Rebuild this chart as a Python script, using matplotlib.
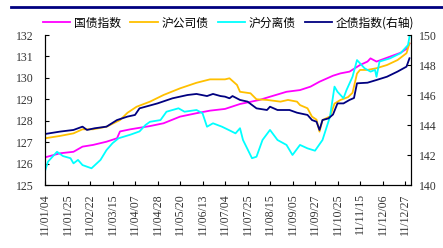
import matplotlib
matplotlib.use("Agg")
import matplotlib.pyplot as plt
from matplotlib.lines import Line2D

# trading-day index (0 = 2011-01-04) and values
guozhai_day = [0, 10, 19, 25, 32, 41, 48, 50, 57, 70, 79, 90, 101, 110, 120, 130, 143, 150,
               161, 170, 177, 183, 192, 197, 203, 210, 215, 217, 221, 230, 237, 241, 243]
guozhai = [126.29, 126.48, 126.55, 126.79, 126.87, 127.02, 127.18, 127.5, 127.6, 127.75,
           127.88, 128.19, 128.35, 128.47, 128.55, 128.78, 128.97, 129.12, 129.35, 129.43,
           129.59, 129.82, 130.1, 130.21, 130.29, 130.6, 130.76, 130.91, 130.76, 130.99,
           131.17, 131.35, 131.6]

gongsi_day = [0, 10, 19, 25, 32, 41, 50, 55, 61, 70, 79, 90, 101, 110, 120, 123, 128, 130,
              137, 141, 148, 157, 162, 168, 170, 175, 178, 181, 183, 185, 190, 193, 197, 202,
              205, 208, 210, 215, 221, 228, 235, 241, 243]
gongsi = [127.18, 127.29, 127.41, 127.6, 127.6, 127.72, 128.03, 128.37, 128.65, 128.89,
          129.2, 129.51, 129.77, 129.93, 129.93, 129.98, 129.67, 129.35, 129.28, 129.0,
          128.97, 128.89, 128.97, 128.89, 128.73, 128.58, 128.19, 128.05, 127.49, 128.03,
          128.2, 128.8, 128.97, 129.1, 129.3, 130.2, 130.37, 130.37, 130.45, 130.6, 130.83,
          131.15, 131.61]

fenli_day = [0, 2, 8, 12, 17, 19, 22, 25, 31, 37, 41, 45, 49, 57, 63, 67, 70, 77, 81, 89,
             93, 101, 105, 108, 112, 118, 123, 127, 130, 132, 138, 141, 145, 150, 155, 161,
             165, 170, 175, 180, 185, 190, 193, 195, 199, 201, 205, 208, 210, 213, 217, 220,
             221, 223, 230, 237, 242, 243]
fenli = [125.65, 126.09, 126.55, 126.35, 126.25, 126.01, 126.17, 125.93, 125.78, 126.17,
         126.63, 126.95, 127.18, 127.35, 127.5, 127.8, 127.95, 128.03, 128.42, 128.58,
         128.42, 128.5, 128.35, 127.72, 127.88, 127.72, 127.55, 127.41, 127.65, 127.1,
         126.25, 126.32, 127.1, 127.57, 127.1, 126.87, 126.4, 126.87, 126.71, 126.6, 127.1,
         128.19, 129.59, 129.35, 129.05, 129.43, 130.05, 130.83, 130.68, 130.45, 130.29,
         130.37, 130.05, 130.76, 130.91, 131.15, 131.53, 131.92]

qizhai_day = [0, 10, 19, 25, 28, 33, 41, 48, 55, 60, 63, 75, 85, 95, 101, 108, 112, 117,
              120, 123, 125, 130, 135, 141, 148, 150, 155, 163, 168, 175, 178, 181, 183, 185,
              189, 192, 195, 199, 203, 206, 208, 215, 221, 228, 235, 241, 243]
qizhai = [143.4, 143.56, 143.67, 143.89, 143.67, 143.78, 143.89, 144.33, 144.56, 144.67,
          145.11, 145.44, 145.78, 146.0, 146.07, 145.93, 146.07, 145.93, 145.89, 145.78,
          145.93, 145.67, 145.56, 145.11, 145.0, 145.22, 145.0, 145.0, 144.82, 144.67,
          144.33, 144.22, 143.67, 144.33, 144.44, 144.7, 145.44, 145.44, 145.67, 145.8,
          146.78, 146.82, 147.0, 147.22, 147.56, 147.89, 148.45]

tick_labels = ['11/01/04', '11/01/25', '11/02/22', '11/03/15', '11/04/07', '11/04/28',
               '11/05/20', '11/06/13', '11/07/04', '11/07/25', '11/08/15', '11/09/05',
               '11/09/27', '11/10/25', '11/11/15', '11/12/06', '11/12/27']
names = ['国债指数', '沪公司债', '沪分离债', '企债指数(右轴)']

cjk = ['Noto Sans CJK SC', 'DejaVu Sans']
serif = 'Liberation Serif'

fig = plt.figure(figsize=(4.43, 2.48), dpi=100)
ax = fig.add_axes([45 / 443, 1 - 185 / 248, (410.7 - 45) / 443, 150 / 248])
ax2 = ax.twinx()

l1, = ax.plot(guozhai_day, guozhai, color='#FF00FF', lw=1.3)
l2, = ax.plot(gongsi_day, gongsi, color='#FFC000', lw=1.3)
l3, = ax.plot(fenli_day, fenli, color='#00FFFF', lw=1.3)
l4, = ax2.plot(qizhai_day, qizhai, color='#000080', lw=1.3)

ax.set_xlim(0, 243.8)
ax.set_ylim(125, 132)
ax2.set_ylim(140, 150)
ax.set_yticks(range(125, 133))
ax2.set_yticks(range(140, 151, 2))
ax.set_xticks(range(0, 15 * len(tick_labels), 15))
ax.set_xticklabels(tick_labels, rotation=90, fontsize=9.5, family=serif, color='#333333')

for a in (ax, ax2):
    a.spines['top'].set_visible(False)
    a.tick_params(direction='in', length=3, width=0.8, labelsize=8.5)
for lab in ax.get_yticklabels() + ax2.get_yticklabels():
    lab.set_family(serif)
    lab.set_color('#333333')
ax.tick_params(axis='y', pad=8)
ax2.tick_params(axis='y', pad=6)
ax.tick_params(axis='x', pad=6)

fig.legend([l1, l2, l3, l4], names, loc='center', bbox_to_anchor=(0.516, 0.907),
           ncol=4, frameon=False, prop={'family': cjk, 'size': 8.5},
           handlelength=2.3, handletextpad=0.3, columnspacing=0.8, borderaxespad=0)

fig.add_artist(Line2D([11 / 443, 1], [1 - 7 / 248] * 2, transform=fig.transFigure,
                      color='#000080', lw=2))

fig.savefig('out.png', dpi=100)
